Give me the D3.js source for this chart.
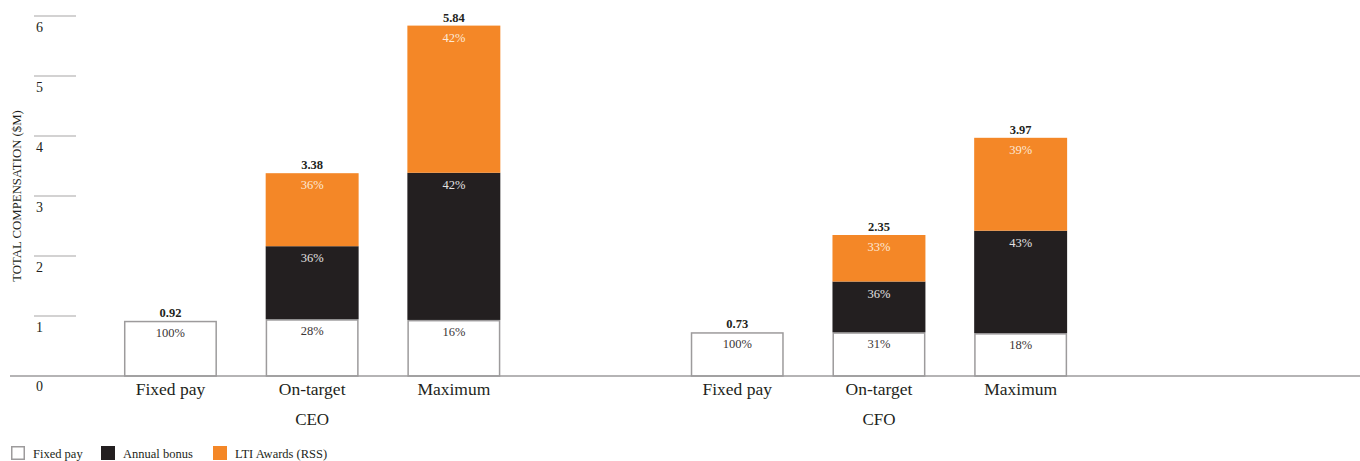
<!DOCTYPE html>
<html>
<head>
<meta charset="utf-8">
<script src="https://cdn.jsdelivr.net/npm/d3@7"></script>
<style>
  html, body { margin: 0; padding: 0; background: #fff; }
  svg { display: block; font-family: "Liberation Serif", "DejaVu Serif", serif; }
</style>
</head>
<body>
<svg id="chart" width="1360" height="461"></svg>
<script>
// Pay scenarios per executive
const roles = ["CEO", "CFO"];
const scenarios = ["Fixed pay", "On-target", "Maximum"];
// Total compensation per bar ($M), CEO first then CFO
const totals = [0.92, 3.38, 5.84, 0.73, 2.35, 3.97];
// Share of each element in the total (%)
const fixedPct = [100, 28, 16, 100, 31, 18];
const bonusPct = [0, 36, 42, 0, 36, 43];
const ltiPct = [0, 36, 42, 0, 33, 39];
const yTicks = [0, 1, 2, 3, 4, 5, 6];
const seriesKeys = ["fixed", "bonus", "lti"];
const legendLabels = ["Fixed pay", "Annual bonus", "LTI Awards (RSS)"];

const colors = { fixed: "#ffffff", bonus: "#231f20", lti: "#f48727" };
const pctColors = { fixed: "#3a3536", bonus: "#e4e2e2", lti: "#fde9d8" };
const pctByKey = { fixed: fixedPct, bonus: bonusPct, lti: ltiPct };

// One row per bar; slot keys include an empty spacer between the two roles
const rows = [];
roles.forEach((r, ri) => {
  scenarios.forEach((s, si) => {
    const i = ri * scenarios.length + si;
    rows.push({
      slot: r + "|" + s, role: r, scenario: s, total: totals[i],
      fixed: totals[i] * fixedPct[i] / 100,
      bonus: totals[i] * bonusPct[i] / 100,
      lti: totals[i] * ltiPct[i] / 100,
      idx: i
    });
  });
});
const slots = [...rows.slice(0, 3).map(d => d.slot), "gap", ...rows.slice(3).map(d => d.slot)];

const svg = d3.select("#chart");
const baseY = 376;
const y = d3.scaleLinear().domain([0, 6]).range([baseY, 16]);
const x = d3.scaleBand().domain(slots).range([99.6, 1091.5])
  .paddingInner(0.344).paddingOuter(0.172);

// Horizontal tick rules with labels underneath
const tickG = svg.append("g");
tickG.selectAll("line").data(yTicks.filter(t => t > 0)).join("line")
  .attr("x1", 34).attr("x2", 76)
  .attr("y1", d => y(d)).attr("y2", d => y(d))
  .attr("stroke", "#a7a5a6").attr("stroke-width", 1.2);
tickG.selectAll("text").data(yTicks).join("text")
  .attr("x", 36).attr("y", d => y(d) + (d === 0 ? 15 : 16))
  .attr("font-size", 14).attr("fill", "#231f20")
  .text(d => d);

// Axis title
svg.append("text")
  .attr("transform", "translate(21,196) rotate(-90)")
  .attr("text-anchor", "middle").attr("font-size", 12.8).attr("fill", "#231f20")
  .text("TOTAL COMPENSATION ($M)");

// Stacked bars
const stack = d3.stack().keys(seriesKeys);
const layers = stack(rows);
const barG = svg.append("g");
layers.forEach(layer => {
  const key = layer.key;
  barG.append("g").selectAll("rect")
    .data(layer.filter(d => d[1] - d[0] > 0)).join("rect")
    .attr("x", d => x(d.data.slot) + (key === "fixed" ? 0.75 : 0))
    .attr("width", x.bandwidth() - (key === "fixed" ? 1.5 : 0))
    .attr("y", d => y(d[1]) + (key === "fixed" ? 0.75 : 0))
    .attr("height", d => y(d[0]) - y(d[1]) - (key === "fixed" ? 0.75 : 0))
    .attr("fill", colors[key])
    .attr("stroke", key === "fixed" ? "#9d9b9c" : "none")
    .attr("stroke-width", 1.5);
});

// Percentage labels inside each segment
layers.forEach(layer => {
  const key = layer.key;
  barG.append("g").selectAll("text")
    .data(layer.filter(d => pctByKey[key][d.data.idx] > 0)).join("text")
    .attr("x", d => x(d.data.slot) + x.bandwidth() / 2)
    .attr("y", d => y(d[1]) + 16)
    .attr("text-anchor", "middle").attr("font-size", 12.5)
    .attr("fill", pctColors[key])
    .text(d => pctByKey[key][d.data.idx] + "%");
});

// Totals above bars
barG.append("g").selectAll("text").data(rows).join("text")
  .attr("x", d => x(d.slot) + x.bandwidth() / 2)
  .attr("y", d => y(d.total) - 4)
  .attr("text-anchor", "middle").attr("font-size", 12.5).attr("font-weight", "bold")
  .attr("fill", "#231f20")
  .text(d => d3.format(".2f")(d.total));

// Baseline
svg.append("line")
  .attr("x1", 10).attr("x2", 1360).attr("y1", baseY).attr("y2", baseY)
  .attr("stroke", "#9d9b9c").attr("stroke-width", 1.5);

// Scenario labels
svg.append("g").selectAll("text").data(rows).join("text")
  .attr("x", d => x(d.slot) + x.bandwidth() / 2)
  .attr("y", 395)
  .attr("text-anchor", "middle").attr("font-size", 17.5).attr("fill", "#231f20")
  .text(d => d.scenario);

// Role labels centred under each group
svg.append("g").selectAll("text").data(roles).join("text")
  .attr("x", r => {
    const g = rows.filter(d => d.role === r);
    return (x(g[0].slot) + x(g[g.length - 1].slot) + x.bandwidth()) / 2;
  })
  .attr("y", 425)
  .attr("text-anchor", "middle").attr("font-size", 17).attr("fill", "#231f20")
  .text(r => r);

// Legend
const legendX = [11, 101, 213];
const lg = svg.append("g");
seriesKeys.forEach((k, i) => {
  lg.append("rect")
    .attr("x", legendX[i] + (k === "fixed" ? 0.75 : 0)).attr("y", 446 + (k === "fixed" ? 0.75 : 0))
    .attr("width", k === "fixed" ? 12.5 : 14).attr("height", k === "fixed" ? 12.5 : 14)
    .attr("fill", colors[k])
    .attr("stroke", k === "fixed" ? "#9d9b9c" : "none").attr("stroke-width", 1.5);
  lg.append("text")
    .attr("x", legendX[i] + 22).attr("y", 457.5)
    .attr("font-size", 12.5).attr("fill", "#231f20")
    .text(legendLabels[i]);
});
</script>
</body>
</html>
